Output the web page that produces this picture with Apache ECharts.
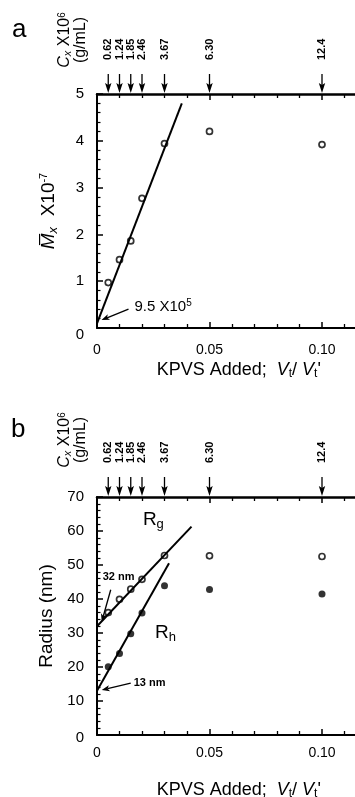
<!DOCTYPE html>
<html><head><meta charset="utf-8">
<script src="https://cdn.jsdelivr.net/npm/echarts@6/dist/echarts.min.js"></script>
<style>html,body{margin:0;padding:0;background:#fff}#c{width:355px;height:797px}</style>
</head><body><div id="c"></div>
<script>
// ---- data ----
const volRatio = [0.005, 0.01, 0.015, 0.02, 0.03, 0.05, 0.10];   // KPVS added Vt/Vt'
const cxLabels = ['0.62', '1.24', '1.85', '2.46', '3.67', '6.30', '12.4']; // Cx x10^6 (g/mL)
const mwValues = [0.97, 1.46, 1.86, 2.77, 3.94, 4.20, 3.92];    // Mx x10^-7
const rgValues = [36.0, 39.9, 42.9, 45.8, 52.8, 52.7, 52.5];    // Rg (nm)
const rhValues = [20.1, 24.0, 29.8, 35.9, 43.9, 42.8, 41.5];    // Rh (nm)
const fitMwX = [0, 0.0377], fitMwY = [0.1, 4.8];
const fitRgX = [0, 0.042],  fitRgY = [32, 61.3];
const fitRhX = [0, 0.032],  fitRhY = [13, 50.5];
const annotA = [{tip: [0.002, 0.17], text: '9.5 X10{sup|5}'}];
const annotB = [{tip: [0.0021, 33.3], text: '32 nm'}, {tip: [0.0021, 13.2], text: '13 nm'}];
const yMaxA = 5, yMaxB = 70;

const FONT = 'Liberation Sans, Arial, Helvetica, sans-serif';
const NARROW = '"Liberation Sans Narrow", "Arial Narrow", "Liberation Sans", sans-serif';
const BLK = '#000';
const zip = (a, b) => a.map((v, i) => [v, b[i]]);

function xAxes(gridIndex, labelMargin, nameGap) {
  const common = {
    type: 'value', gridIndex, min: 0, max: 0.15, interval: 0.05,
    axisLine: {lineStyle: {color: BLK, width: 2}},
    axisTick: {inside: true, length: 6, lineStyle: {color: BLK, width: 1.5}},
    minorTick: {show: true, splitNumber: 5, length: 4, lineStyle: {color: BLK, width: 1.3}},
    splitLine: {show: false}, minorSplitLine: {show: false}
  };
  return [
    Object.assign({}, common, {
      position: 'bottom',
      axisLabel: {color: BLK, fontFamily: FONT, fontSize: 14, margin: labelMargin, showMaxLabel: false,
        formatter: v => v === 0 ? '0' : v.toFixed(2)},
      name: '{n|KPVS Added;  }{v|V}{s|t}{n|/ }{v|V}{s|t}{n|\'}',
      nameLocation: 'middle', nameGap: nameGap,
      nameTextStyle: {padding: [0, 54, 0, 0], rich: {
        n: {fontFamily: FONT, fontSize: 18, color: BLK, lineHeight: 20},
        v: {fontFamily: FONT, fontSize: 18, fontStyle: 'italic', color: BLK, lineHeight: 20},
        s: {fontFamily: FONT, fontSize: 12, color: BLK, verticalAlign: 'bottom', lineHeight: 20}
      }}
    }),
    Object.assign({}, common, {
      position: 'top', axisLabel: {show: false},
      axisLine: {lineStyle: {color: BLK, width: 2.5}}
    })
  ];
}

function yAxis(gridIndex, max, interval, name, nameGap, rich, zeroPad) {
  return {
    type: 'value', gridIndex, min: 0, max, interval,
    axisLine: {lineStyle: {color: BLK, width: 2}},
    axisTick: {inside: true, length: 6, lineStyle: {color: BLK, width: 1.5}},
    minorTick: {show: true, splitNumber: 5, length: 3.5, lineStyle: {color: BLK, width: 1.2}},
    splitLine: {show: false},
    axisLabel: {color: BLK, fontFamily: FONT, fontSize: 15, margin: 13,
      formatter: v => v === 0 ? '{z|0}' : String(v),
      rich: {z: {fontFamily: FONT, fontSize: 15, color: BLK, padding: [zeroPad, 0, 0, 0]}}},
    name, nameLocation: 'middle', nameRotate: 90, nameGap,
    nameTextStyle: {rich}
  };
}

function topArrows(yMax) {
  return function (params, api) {
    const p = api.coord([api.value(0), yMax]);
    const x = p[0], y = p[1];
    return {type: 'group', children: [
      {type: 'line', shape: {x1: x, y1: y - 20, x2: x, y2: y - 6}, style: {stroke: BLK, lineWidth: 1.3}},
      {type: 'polygon', shape: {points: [[x - 3.2, y - 11], [x, y - 9], [x + 3.2, y - 11], [x, y - 1]]}, style: {fill: BLK}},
      {type: 'text', x: x, y: y - 34, rotation: Math.PI / 2,
        style: {text: cxLabels[params.dataIndex], font: 'bold 11px ' + FONT, fill: BLK,
          align: 'left', verticalAlign: 'middle'}}
    ]};
  };
}

function arrowShape(tx, ty, sx, sy) {
  const dx = tx - sx, dy = ty - sy, L = Math.hypot(dx, dy), ux = dx / L, uy = dy / L;
  const bx = tx - ux * 8, by = ty - uy * 8, px = -uy * 3, py = ux * 3;
  return [
    {type: 'line', shape: {x1: sx, y1: sy, x2: bx + ux * 2, y2: by + uy * 2}, style: {stroke: BLK, lineWidth: 1.3}},
    {type: 'polygon', shape: {points: [[tx, ty], [bx + px, by + py], [bx + ux * 2, by + uy * 2], [bx - px, by - py]]}, style: {fill: BLK}}
  ];
}

const supRich = {
  n: {fontFamily: FONT, fontSize: 15, color: BLK, lineHeight: 18},
  sup: {fontFamily: FONT, fontSize: 10, color: BLK, verticalAlign: 'top', lineHeight: 18}
};

const option = {
  backgroundColor: '#fff',
  animation: false,
  grid: [
    {left: 97, top: 94, width: 337.5, height: 234, outerBoundsMode: 'none', containLabel: false},
    {left: 97, top: 497, width: 337.5, height: 238, outerBoundsMode: 'none', containLabel: false}
  ],
  xAxis: [...xAxes(0, 15, 32), ...xAxes(1, 11, 45)],
  yAxis: [
    yAxis(0, yMaxA, 1, '{m|M\u0305}{s|x}{n|  X10}{p|-7}', 37, {
      m: {fontFamily: FONT, fontSize: 19, fontStyle: 'italic', color: BLK, lineHeight: 22},
      n: {fontFamily: FONT, fontSize: 19, color: BLK, lineHeight: 22},
      s: {fontFamily: FONT, fontSize: 13, fontStyle: 'italic', color: BLK, verticalAlign: 'bottom', lineHeight: 22},
      p: {fontFamily: FONT, fontSize: 11, color: BLK, verticalAlign: 'top', lineHeight: 22}
    }, 14),
    yAxis(1, yMaxB, 10, '{n|Radius (nm)}', 32, {
      n: {fontFamily: FONT, fontSize: 19, color: BLK}
    }, 6)
  ],
  series: [
    // panel a
    {type: 'line', xAxisIndex: 0, yAxisIndex: 0, data: zip(fitMwX, fitMwY), showSymbol: false, silent: true,
      lineStyle: {color: BLK, width: 2}},
    {type: 'scatter', xAxisIndex: 0, yAxisIndex: 0, data: zip(volRatio, mwValues), symbol: 'circle', symbolSize: 6,
      itemStyle: {color: '#fff', borderColor: BLK, borderWidth: 1.7}},
    {type: 'custom', xAxisIndex: 1, yAxisIndex: 0, silent: true, clip: false,
      data: volRatio.map(v => [v, yMaxA]), renderItem: topArrows(yMaxA)},
    {type: 'custom', xAxisIndex: 0, yAxisIndex: 0, silent: true, clip: false,
      data: annotA.map(a => a.tip),
      renderItem: (params, api) => {
        const p = api.coord([api.value(0), api.value(1)]);
        return {type: 'group', children: [
          ...arrowShape(p[0], p[1], p[0] + 27, p[1] - 11),
          {type: 'text', x: p[0] + 33, y: p[1] - 13,
            style: {text: annotA[params.dataIndex].text, rich: supRich, font: '15px ' + FONT, fill: BLK,
              align: 'left', verticalAlign: 'middle'}}
        ]};
      }},
    // panel b
    {type: 'line', xAxisIndex: 2, yAxisIndex: 1, data: zip(fitRgX, fitRgY), showSymbol: false, silent: true,
      lineStyle: {color: BLK, width: 2}},
    {type: 'line', xAxisIndex: 2, yAxisIndex: 1, data: zip(fitRhX, fitRhY), showSymbol: false, silent: true,
      lineStyle: {color: BLK, width: 2}},
    {type: 'scatter', name: 'Rg', xAxisIndex: 2, yAxisIndex: 1, data: zip(volRatio, rgValues), symbol: 'circle', symbolSize: 6,
      itemStyle: {color: '#fff', borderColor: BLK, borderWidth: 1.7}},
    {type: 'scatter', name: 'Rh', xAxisIndex: 2, yAxisIndex: 1, data: zip(volRatio, rhValues), symbol: 'circle', symbolSize: 7,
      itemStyle: {color: BLK}},
    {type: 'custom', xAxisIndex: 3, yAxisIndex: 1, silent: true, clip: false,
      data: volRatio.map(v => [v, yMaxB]), renderItem: topArrows(yMaxB)},
    {type: 'custom', xAxisIndex: 2, yAxisIndex: 1, silent: true, clip: false,
      data: annotB.map(a => a.tip),
      renderItem: (params, api) => {
        const p = api.coord([api.value(0), api.value(1)]);
        const i = params.dataIndex;
        const tail = i === 0 ? [p[0] + 9, p[1] - 32] : [p[0] + 29, p[1] - 7];
        const txt = i === 0 ? {x: p[0] + 1, y: p[1] - 45, align: 'left'} : {x: p[0] + 32, y: p[1] - 7, align: 'left'};
        return {type: 'group', children: [
          ...arrowShape(p[0], p[1], tail[0], tail[1]),
          {type: 'text', x: txt.x, y: txt.y,
            style: {text: annotB[i].text, font: 'bold 11px ' + NARROW, fill: BLK, align: txt.align, verticalAlign: 'middle'}}
        ]};
      }},
    {type: 'custom', xAxisIndex: 2, yAxisIndex: 1, silent: true, clip: false,
      data: [[0.0204, 63.2], [0.0258, 30]],
      renderItem: (params, api) => {
        const p = api.coord([api.value(0), api.value(1)]);
        return {type: 'text', x: p[0], y: p[1],
          style: {text: params.dataIndex === 0 ? '{r|R}{s|g}' : '{r|R}{s|h}', align: 'left', verticalAlign: 'middle',
            rich: {r: {fontFamily: FONT, fontSize: 19, fill: BLK, color: BLK, lineHeight: 22},
                   s: {fontFamily: FONT, fontSize: 13, fill: BLK, color: BLK, verticalAlign: 'bottom', lineHeight: 22}}}};
      }}
  ],
  graphic: [
    {type: 'text', left: 12, top: 17, style: {text: 'a', font: '26px ' + FONT, fill: BLK}},
    {type: 'text', left: 11, top: 417, style: {text: 'b', font: '26px ' + FONT, fill: BLK}},
    {type: 'text', x: 73, y: 40, rotation: Math.PI / 2,
      style: {text: '{i|C}{s|x}{n| X10}{p|6}\n{n|(g/mL)}', align: 'center', verticalAlign: 'middle',
        rich: {i: {fontFamily: FONT, fontSize: 16, fontStyle: 'italic', fill: BLK, lineHeight: 16},
               n: {fontFamily: FONT, fontSize: 16, fill: BLK, lineHeight: 16},
               s: {fontFamily: FONT, fontSize: 11, fontStyle: 'italic', fill: BLK, verticalAlign: 'bottom', lineHeight: 16},
               p: {fontFamily: FONT, fontSize: 10, fill: BLK, verticalAlign: 'top', lineHeight: 16}}}},
    {type: 'text', x: 73, y: 440, rotation: Math.PI / 2,
      style: {text: '{i|C}{s|x}{n| X10}{p|6}\n{n|(g/mL)}', align: 'center', verticalAlign: 'middle',
        rich: {i: {fontFamily: FONT, fontSize: 16, fontStyle: 'italic', fill: BLK, lineHeight: 16},
               n: {fontFamily: FONT, fontSize: 16, fill: BLK, lineHeight: 16},
               s: {fontFamily: FONT, fontSize: 11, fontStyle: 'italic', fill: BLK, verticalAlign: 'bottom', lineHeight: 16},
               p: {fontFamily: FONT, fontSize: 10, fill: BLK, verticalAlign: 'top', lineHeight: 16}}}}
  ]
};
const chart = echarts.init(document.getElementById('c'), null, {renderer: 'canvas'});
chart.setOption(option);
</script></body></html>
